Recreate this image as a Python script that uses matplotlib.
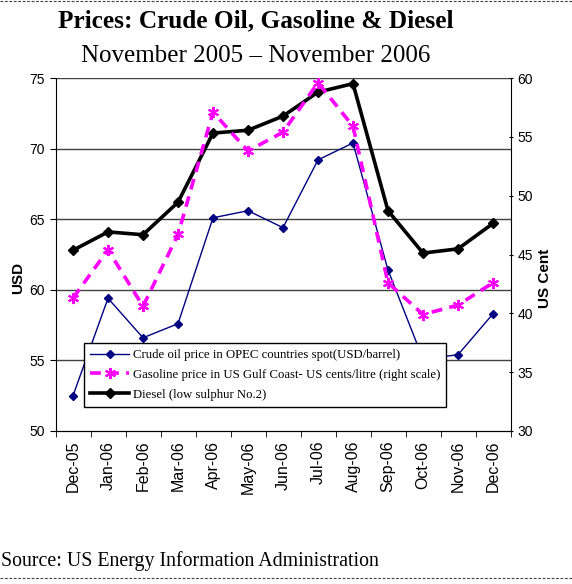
import matplotlib
matplotlib.use('Agg')
import matplotlib.pyplot as plt
from matplotlib.lines import Line2D
import numpy as np

months = ['Dec-05', 'Jan-06', 'Feb-06', 'Mar-06', 'Apr-06', 'May-06', 'Jun-06',
          'Jul-06', 'Aug-06', 'Sep-06', 'Oct-06', 'Nov-06', 'Dec-06']
crude = [52.5, 59.4, 56.6, 57.6, 65.1, 65.6, 64.4, 69.2, 70.4, 61.4, 55.1, 55.4, 58.3]
gasoline = [41.3, 45.4, 40.6, 46.7, 57.1, 53.8, 55.4, 59.6, 55.9, 42.6, 39.9, 40.7, 42.6]
diesel = [62.8, 64.1, 63.9, 66.2, 71.1, 71.3, 72.3, 74.0, 74.6, 65.6, 62.6, 62.9, 64.7]

serif = 'Liberation Serif'
sans = 'Liberation Sans'

fig = plt.figure(figsize=(5.72, 5.84), dpi=100)
ax = fig.add_axes([55.5/572, 1-431/584, 455/572, 353/584])
ax2 = ax.twinx()

x = np.arange(len(months))

# gridlines (left scale)
for v in [55, 60, 65, 70, 75]:
    ax.axhline(v, color='#404040', lw=1, zorder=0)

ax.plot(x, crude, color='#000080', lw=1, marker='D', ms=4.5, zorder=3)
ax.plot(x, diesel, color='black', lw=2.6, marker='D', ms=5, zorder=4)
ax2.plot(x, gasoline, color='#FF00FF', lw=2.6, dashes=(3, 2), marker=(6, 2, 0),
         ms=8, mew=1.5, zorder=3)

ax.set_xlim(-0.5, len(months)-0.5)
ax.set_ylim(50, 75)
ax2.set_ylim(30, 60)
ax.set_yticks([50, 55, 60, 65, 70, 75])
ax2.set_yticks([30, 35, 40, 45, 50, 55, 60])

ax.set_xticks(x)
ax.set_xticklabels(months, rotation=90, family=sans, fontsize=11.5)
ax.set_xticks(np.arange(-0.5, len(months)), minor=True)
ax.tick_params(axis='x', which='major', length=0, pad=7)
ax.tick_params(axis='x', which='minor', length=4, direction='out')
ax.tick_params(axis='y', length=4, direction='out', labelsize=10)
ax2.tick_params(axis='y', length=3, direction='inout', labelsize=10)
for lab in ax.get_yticklabels() + ax2.get_yticklabels():
    lab.set_family(sans)

for a in (ax, ax2):
    a.spines['top'].set_visible(False)
ax2.spines['left'].set_visible(False)
ax.spines['right'].set_visible(False)
ax.patch.set_visible(False)

fig.text(18/572, 1-278/584, 'USD', rotation=90, ha='center', va='center',
         family=sans, fontweight='bold', fontsize=11)
fig.text(545/572, 1-278/584, 'US Cent', rotation=90, ha='center', va='center',
         family=sans, fontweight='bold', fontsize=11)

handles = [
    Line2D([], [], color='#000080', lw=1, marker='D', ms=4.5),
    Line2D([], [], color='#FF00FF', lw=2.6, dashes=(3, 2), marker=(6, 2, 0), ms=8, mew=1.5),
    Line2D([], [], color='black', lw=2.6, marker='D', ms=5),
]
labels = ['Crude oil price in OPEC countries spot(USD/barrel)',
          'Gasoline price in US Gulf Coast- US cents/litre (right scale)',
          'Diesel (low sulphur No.2)']
leg = ax2.legend(handles, labels, loc='lower left',
                 bbox_to_anchor=((84-55.5)/455, (431-407)/353),
                 prop={'family': serif, 'size': 9.2}, frameon=True, fancybox=False,
                 edgecolor='black', framealpha=1, borderpad=0.5, labelspacing=0.6,
                 handlelength=3.0, handletextpad=0.3, borderaxespad=0)
leg.get_frame().set_linewidth(1)

fig.text(256/572, 1-27/584, 'Prices: Crude Oil, Gasoline & Diesel', ha='center',
         va='baseline', family=serif, fontweight='bold', fontsize=18.2)
fig.text(256/572, 1-62/584, 'November 2005 \u2013 November 2006', ha='center',
         va='baseline', family=serif, fontsize=18)
fig.text(1/572, 1-566/584, 'Source: US Energy Information Administration', ha='left',
         va='baseline', family=serif, fontsize=14.3)

for yy in (1, 578):
    fig.add_artist(Line2D([0, 1], [1-yy/584, 1-yy/584], transform=fig.transFigure,
                          color='#404040', lw=0.8, dashes=(2.5, 1.5)))

fig.savefig('out.png', dpi=100)
